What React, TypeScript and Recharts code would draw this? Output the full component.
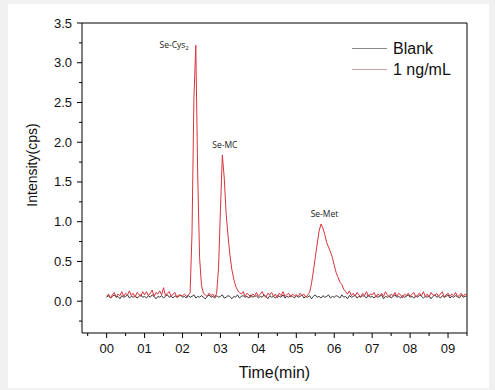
import { LineChart, Line, XAxis, YAxis, ReferenceLine, ReferenceDot, Label } from 'recharts'

// sampling step of the chromatogram (min)
const STEP = 0.05

// Blank run, 0.00 .. 9.50 min
const blank = [
  0.05, 0.07, 0.04, 0.06, 0.08, 0.05, 0.06, 0.03, 0.07, 0.05, 0.06, 0.08, 0.04, 0.06, 0.05, 0.07, 0.04, 0.06, 0.08, 0.05,
  0.06, 0.04, 0.07, 0.05, 0.08, 0.06, 0.03, 0.06, 0.05, 0.07, 0.04, 0.06, 0.08, 0.05, 0.06, 0.04, 0.07, 0.05, 0.06, 0.08,
  0.05, 0.06, 0.04, 0.07, 0.05, 0.06, 0.08, 0.04, 0.06, 0.05, 0.07, 0.05, 0.03, 0.06, 0.08, 0.05, 0.06, 0.04, 0.07, 0.05,
  0.06, 0.08, 0.04, 0.05, 0.07, 0.06, 0.03, 0.06, 0.05, 0.08, 0.04, 0.06, 0.07, 0.05, 0.06, 0.04, 0.08, 0.05, 0.06, 0.07,
  0.04, 0.06, 0.05, 0.08, 0.06, 0.03, 0.07, 0.05, 0.06, 0.04, 0.07, 0.06, 0.05, 0.08, 0.04, 0.06, 0.05, 0.07, 0.06, 0.04,
  0.07, 0.05, 0.06, 0.08, 0.04, 0.06, 0.05, 0.07, 0.03, 0.06, 0.08, 0.05, 0.06, 0.04, 0.07, 0.05, 0.06, 0.08, 0.04, 0.06,
  0.05, 0.07, 0.06, 0.04, 0.08, 0.05, 0.06, 0.03, 0.07, 0.05, 0.06, 0.08, 0.04, 0.06, 0.05, 0.07, 0.06, 0.04, 0.08, 0.05,
  0.06, 0.04, 0.07, 0.05, 0.06, 0.08, 0.03, 0.06, 0.05, 0.07, 0.04, 0.06, 0.08, 0.05, 0.06, 0.04, 0.07, 0.05, 0.06, 0.08,
  0.05, 0.06, 0.04, 0.07, 0.05, 0.08, 0.06, 0.04, 0.06, 0.05, 0.07, 0.03, 0.06, 0.08, 0.05, 0.06, 0.04, 0.07, 0.05, 0.06,
  0.08, 0.04, 0.06, 0.05, 0.07, 0.06, 0.04, 0.08, 0.05, 0.06, 0.07,
]

// 1 ng/mL standard, 0.00 .. 9.50 min
const sample = [
  0.06, 0.09, 0.04, 0.08, 0.11, 0.05, 0.09, 0.07, 0.12, 0.06, 0.10, 0.08, 0.13, 0.07, 0.10, 0.05, 0.11, 0.09, 0.06, 0.12,
  0.08, 0.12, 0.07, 0.10, 0.14, 0.06, 0.11, 0.09, 0.13, 0.08, 0.17, 0.07, 0.10, 0.12, 0.06, 0.09, 0.11, 0.05, 0.08, 0.07,
  0.07, 0.09, 0.06, 0.08, 0.10, 0.85, 2.55, 3.22, 1.60, 0.55, 0.20, 0.10, 0.08, 0.06, 0.10, 0.07, 0.09, 0.05, 0.10, 0.42,
  1.15, 1.84, 1.55, 1.10, 0.82, 0.58, 0.40, 0.28, 0.19, 0.14, 0.11, 0.09, 0.12, 0.06, 0.10, 0.08, 0.05, 0.09, 0.07, 0.11,
  0.06, 0.09, 0.12, 0.07, 0.05, 0.10, 0.08, 0.11, 0.06, 0.09, 0.04, 0.10, 0.07, 0.12, 0.06, 0.08, 0.10, 0.05, 0.09, 0.07,
  0.08, 0.06, 0.10, 0.07, 0.09, 0.05, 0.08, 0.11, 0.22, 0.38, 0.55, 0.72, 0.88, 0.97, 0.92, 0.84, 0.74, 0.68, 0.62, 0.55,
  0.45, 0.36, 0.30, 0.24, 0.21, 0.15, 0.12, 0.09, 0.13, 0.07, 0.10, 0.06, 0.11, 0.08, 0.05, 0.10, 0.07, 0.12, 0.06, 0.09,
  0.08, 0.11, 0.05, 0.09, 0.07, 0.10, 0.06, 0.12, 0.08, 0.05, 0.09, 0.07, 0.11, 0.06, 0.10, 0.08, 0.04, 0.09, 0.07, 0.10,
  0.06, 0.09, 0.11, 0.05, 0.08, 0.10, 0.07, 0.12, 0.06, 0.09, 0.05, 0.11, 0.08, 0.07, 0.10, 0.06, 0.09, 0.12, 0.05, 0.08,
  0.10, 0.06, 0.09, 0.07, 0.11, 0.05, 0.08, 0.10, 0.06, 0.09, 0.07,
]

const xTicks = [-0.5, 0, 0.5, 1, 1.5, 2, 2.5, 3, 3.5, 4, 4.5, 5, 5.5, 6, 6.5, 7, 7.5, 8, 8.5, 9, 9.5]
const yTicks = [-0.25, 0, 0.25, 0.5, 0.75, 1, 1.25, 1.5, 1.75, 2, 2.25, 2.5, 2.75, 3, 3.25, 3.5]

const seriesNames = ['Blank', '1 ng/mL']

const peakNames = ['Se-Cys', 'Se-MC', 'Se-Met']
const peakSubs = ['2', '', '']
const peakTimes = [2.35, 3.05, 5.65]
const peakHeights = [3.22, 1.84, 0.97]

const data = sample.map((v, i) => ({ t: +(i * STEP).toFixed(2), blank: blank[i], sample: v }))

const FONT = '"Liberation Sans", Arial, sans-serif'

function XTick(props: any) {
  const { x, y, payload } = props
  const v = payload.value
  const major = Number.isInteger(v)
  return (
    <g>
      <line x1={x} x2={x} y1={y} y2={y + (major ? 5 : 3)} stroke="#000" />
      {major && (
        <text x={x} y={y + 20} textAnchor="middle" fontSize={13} fill="#111" fontFamily={FONT}>
          {'0' + v}
        </text>
      )}
    </g>
  )
}

function YTick(props: any) {
  const { x, y, payload } = props
  const v = payload.value
  const major = Number.isInteger(v * 2)
  return (
    <g>
      <line x1={x} x2={x - (major ? 5 : 3)} y1={y} y2={y} stroke="#000" />
      {major && (
        <text x={x - 10} y={y + 4.5} textAnchor="end" fontSize={13} fill="#111" fontFamily={FONT}>
          {v.toFixed(1)}
        </text>
      )}
    </g>
  )
}

// where each peak name sits relative to its apex
const labelPlacement = [
  { dx: -7, dy: 3, anchor: 'end' },
  { dx: 2.5, dy: -7, anchor: 'middle' },
  { dx: 3.5, dy: -7, anchor: 'middle' },
]

function peakLabel(i: number) {
  return (p: any) => {
    const vb = p.viewBox
    const cx = vb.x + vb.width / 2
    const cy = vb.y + vb.height / 2
    const pl = labelPlacement[i]
    return (
      <text x={cx + pl.dx} y={cy + pl.dy} textAnchor={pl.anchor} fontSize={8.5} fill="#222" fontFamily='"Open Sans", "Noto Sans", sans-serif'>
        {peakNames[i]}
        {peakSubs[i] && <tspan fontSize={6} dy={2}>{peakSubs[i]}</tspan>}
      </text>
    )
  }
}

const legendColors = ['#8a8a8a', '#c9a2a6']

export default function App() {
  return (
    <div style={{ position: 'absolute', left: 0, top: 0, width: 495, height: 390, background: '#f1f1f1', fontFamily: FONT }}>
      <div style={{ position: 'absolute', left: 8, top: 4, width: 481, height: 384, background: '#fff' }} />
      <div style={{ position: 'absolute', left: 0, top: 0 }}>
        <LineChart width={495} height={390} data={data} margin={{ top: 23, right: 28, left: 22, bottom: 7 }}>
          <XAxis
            dataKey="t"
            type="number"
            domain={[-0.65, 9.5]}
            allowDataOverflow
            ticks={xTicks}
            interval={0}
            tickSize={0}
            tickMargin={0}
            tickLine={false}
            tick={<XTick />}
            axisLine={{ stroke: '#000' }}
            height={50}
          >
            <Label
              content={(p: any) => (
                <text x={p.viewBox.x + p.viewBox.width / 2} y={p.viewBox.y + 45} textAnchor="middle" fontSize={16} fill="#111" fontFamily={FONT}>
                  Time(min)
                </text>
              )}
            />
          </XAxis>
          <YAxis
            type="number"
            domain={[-0.4, 3.5]}
            allowDataOverflow
            ticks={yTicks}
            interval={0}
            tickSize={0}
            tickMargin={0}
            tickLine={false}
            tick={<YTick />}
            axisLine={{ stroke: '#000' }}
            width={60}
          >
            <Label
              content={(p: any) => {
                const x = p.viewBox.x + 10
                const y = p.viewBox.y + p.viewBox.height / 2 - 13
                return (
                  <text x={x} y={y} transform={`rotate(-90 ${x} ${y})`} textAnchor="middle" dominantBaseline="central" fontSize={14} fill="#111" fontFamily={FONT}>
                    Intensity(cps)
                  </text>
                )
              }}
            />
          </YAxis>
          <ReferenceLine y={3.5} stroke="#000" />
          <ReferenceLine x={9.5} stroke="#000" />
          <Line name={seriesNames[0]} dataKey="blank" stroke="#3a3a3a" strokeWidth={1} dot={false} type="linear" isAnimationActive={false} />
          <Line name={seriesNames[1]} dataKey="sample" stroke="#d8343c" strokeWidth={1} dot={false} type="linear" isAnimationActive={false} />
          {peakNames.map((n, i) => (
            <ReferenceDot key={n} x={peakTimes[i]} y={peakHeights[i]} r={0.01} fill="none" stroke="none">
              <Label content={peakLabel(i)} />
            </ReferenceDot>
          ))}
        </LineChart>
      </div>
      {/* legend drawn over the chart so it does not shrink the plot */}
      <div style={{ position: 'absolute', left: 352, top: 38, fontSize: 16, color: '#111' }}>
        {seriesNames.map((n, i) => (
          <div key={n} style={{ display: 'flex', alignItems: 'center', height: 21 }}>
            <span style={{ display: 'inline-block', width: 35, borderTop: `1px solid ${legendColors[i]}`, marginRight: 6 }} />
            {n}
          </div>
        ))}
      </div>
    </div>
  )
}
